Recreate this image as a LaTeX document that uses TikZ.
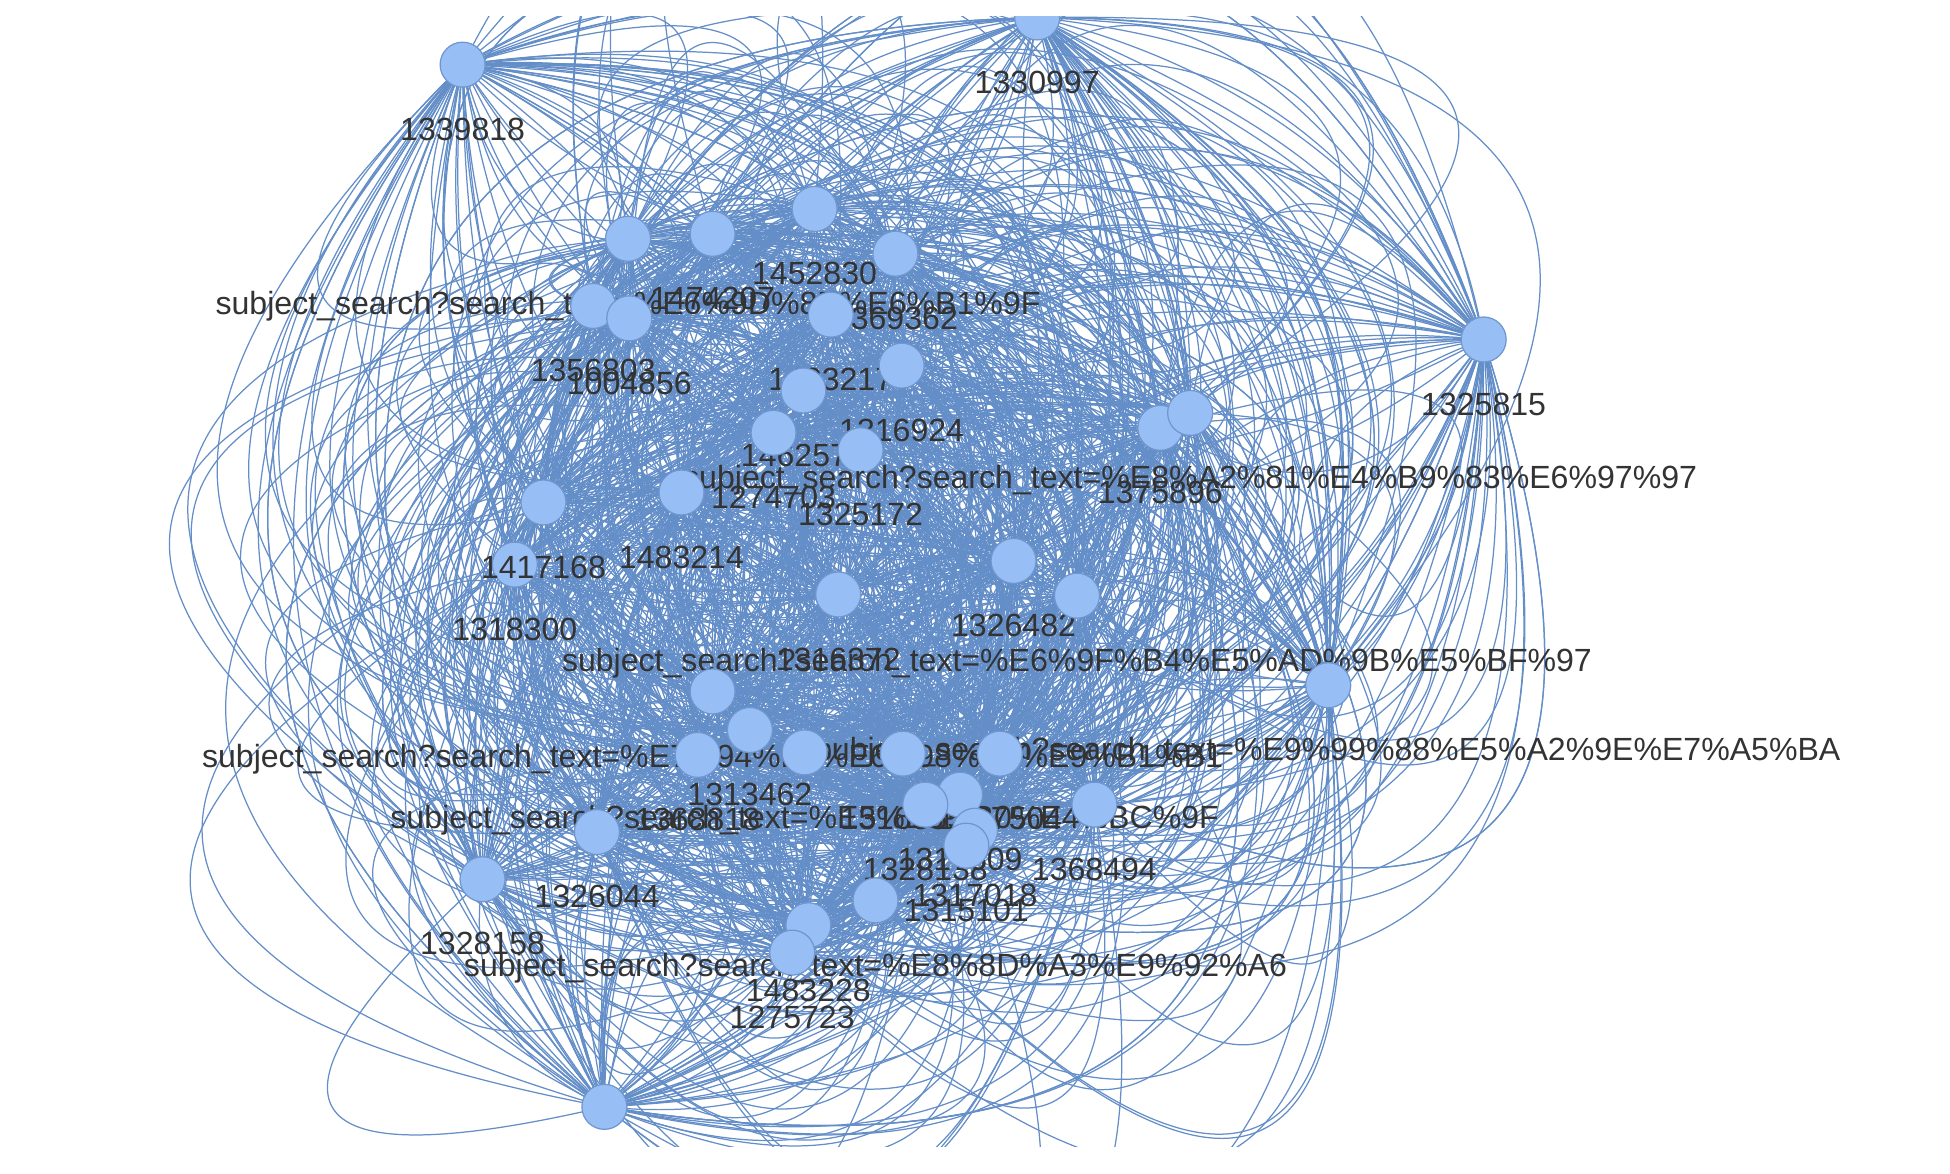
\documentclass[tikz,border=0pt]{standalone}
\usepackage{fontspec}
\setmainfont{Liberation Sans}
\usetikzlibrary{backgrounds, calc}

\definecolor{edgeblue}{RGB}{100,142,200}
\definecolor{nodefill}{RGB}{151,191,246}
\definecolor{nodeline}{RGB}{112,150,206}
\definecolor{labelgray}{RGB}{51,51,51}

\tikzset{
  gnode/.style={circle, draw=nodeline, fill=nodefill, line width=0.5pt, minimum size=18.1pt, inner sep=0pt},
  tag/.style={font=\fontsize{12.9}{13}\selectfont, text=labelgray, inner sep=0pt, text height=9.25pt},
  link/.style={draw=edgeblue, line width=0.5pt}
}

\begin{document}
\begin{tikzpicture}[x=0.5pt, y=-0.5pt, label distance=11.7pt]
\useasboundingbox (0,0) rectangle (1568,944);
\clip (0,13) rectangle (1568,922);
\pgfmathsetseed{31}

% outer nodes
\node[gnode, label={[tag]below:1339818}] (n1339818) at (372,52) {};
\node[gnode, label={[tag]below:1330997}] (n1330997) at (834,14) {};
\node[gnode, label={[tag]below:1325815}] (n1325815) at (1193,273) {};
\node[gnode] (nlow) at (486,890) {};

% upper cluster
\node[gnode, label={[tag]below:1452830}] (n1452830) at (655,168) {};
\node[gnode, label={[tag]below:{subject\_search?search\_text=\%E6\%9D\%8E\%E6\%B1\%9F}}] (sli) at (505,192) {};
\node[gnode, label={[tag]below:1474207}] (n1474207) at (573,188) {};
\node[gnode, label={[tag]below:1369362}] (n1369362) at (720,204) {};
\node[gnode, label={[tag]below:1356803}] (n1356803) at (477,246) {};
\node[gnode, label={[tag]below:1004856}] (n1004856) at (506,256) {};
\node[gnode, label={[tag]below:1483217}] (n1483217) at (668,253) {};
\node[gnode, label={[tag]below:1316924}] (n1316924) at (725,294) {};
\node[gnode, label={[tag]below:1462571}] (n1462571) at (646,314) {};
\node[gnode, label={[tag]below:1274703}] (n1274703) at (622,348) {};
\node[gnode, label={[tag]below:1325172}] (n1325172) at (692,362) {};
\node[gnode, label={[tag]below:1375896}] (n1375896) at (933,344) {};
\node[gnode, label={[tag]below:{subject\_search?search\_text=\%E8\%A2\%81\%E4\%B9\%83\%E6\%97\%97}}] (syuan) at (957,332) {};

% middle band
\node[gnode, label={[tag]below:1318300}] (n1318300) at (414,454) {};
\node[gnode, label={[tag]below:1417168}] (n1417168) at (437,404) {};
\node[gnode, label={[tag]below:1483214}] (n1483214) at (548,396) {};
\node[gnode, label={[tag]below:1326482}] (n1326482) at (815,451) {};
\node[gnode, label={[tag]below:1316372}] (n1316372) at (674,478) {};
\node[gnode, label={[tag]below:{subject\_search?search\_text=\%E6\%9F\%B4\%E5\%AD\%9B\%E5\%BF\%97}}] (schai) at (866,479) {};
\node[gnode, label={[tag]below:{subject\_search?search\_text=\%E9\%99\%88\%E5\%A2\%9E\%E7\%A5\%BA}}] (schen) at (1068,551) {};
\node[gnode, label={[tag]below:{subject\_search?search\_text=\%E7\%94\%B0\%E6\%98\%A5\%E9\%B1\%B1}}] (stian) at (573,556) {};

% lower cluster
\node[gnode, label={[tag]below:1313462}] (n1313462) at (603,587) {};
\node[gnode, label={[tag]below:1368818}] (n1368818) at (561,607) {};
\node[gnode, label={[tag]below:{subject\_search?search\_text=\%E5\%B3\%B0\%E4\%BC\%9F}}] (swei) at (647,605) {};
\node[gnode, label={[tag]below:1316355}] (n1316355) at (726,606) {};
\node[gnode, label={[tag]below:1327504}] (n1327504) at (804,606) {};
\node[gnode, label={[tag]below:1317609}] (n1317609) at (772,639) {};
\node[gnode, label={[tag]below:1328138}] (n1328138) at (744,647) {};
\node[gnode, label={[tag]below:1368494}] (n1368494) at (880,647) {};
\node[gnode, label={[tag]below:1317018}] (n1317018) at (784,668) {};
\node[gnode, label={[tag]below:1315101}] (n1315101) at (777,680) {};
\node[gnode, label={[tag]below:{subject\_search?search\_text=\%E8\%8D\%A3\%E9\%92\%A6}}] (srong) at (704,724) {};
\node[gnode, label={[tag]below:1483228}] (n1483228) at (650,744) {};
\node[gnode, label={[tag]below:1275723}] (n1275723) at (637,766) {};
\node[gnode, label={[tag]below:1326044}] (n1326044) at (480,669) {};
\node[gnode, label={[tag]below:1328158}] (n1328158) at (388,707) {};

% name/x/y of every node, for the links
\def\allnodes{n1339818/372/52,n1330997/834/14,n1325815/1193/273,nlow/486/890,n1452830/655/168,sli/505/192,n1474207/573/188,n1369362/720/204,n1356803/477/246,n1004856/506/256,n1483217/668/253,n1316924/725/294,n1462571/646/314,n1274703/622/348,n1325172/692/362,n1375896/933/344,syuan/957/332,n1318300/414/454,n1417168/437/404,n1483214/548/396,n1326482/815/451,n1316372/674/478,schai/866/479,schen/1068/551,stian/573/556,n1313462/603/587,n1368818/561/607,swei/647/605,n1316355/726/606,n1327504/804/606,n1317609/772/639,n1328138/744/647,n1368494/880/647,n1317018/784/668,n1315101/777/680,srong/704/724,n1483228/650/744,n1275723/637/766,n1326044/480/669,n1328158/388/707}

% every pair linked twice, curved; long links bend less
\begin{scope}[on background layer]
\clip (0,13) rectangle (1568,922);
\foreach \a/\ax/\ay [count=\i] in \allnodes {
  \foreach \b/\bx/\by [count=\j] in \allnodes {
    \ifnum\j>\i
      \pgfmathsetmacro\dd{100*veclen((\bx-\ax)/100,(\by-\ay)/100)}
      \foreach \k in {1,2} {
        \pgfmathsetmacro\cv{min(0.4+3.6*rnd,1200/\dd)*(2*random(0,1)-1)}
        \coordinate (ctl) at ($(\a.center)!0.5!(\b.center)!\cv!90:(\b.center)$);
        \draw[link] (\a.center) .. controls ($(\a.center)!0.6667!(ctl)$) and ($(\b.center)!0.6667!(ctl)$) .. (\b.center);
      }
    \fi
  }
}
\end{scope}
\end{tikzpicture}
\end{document}
